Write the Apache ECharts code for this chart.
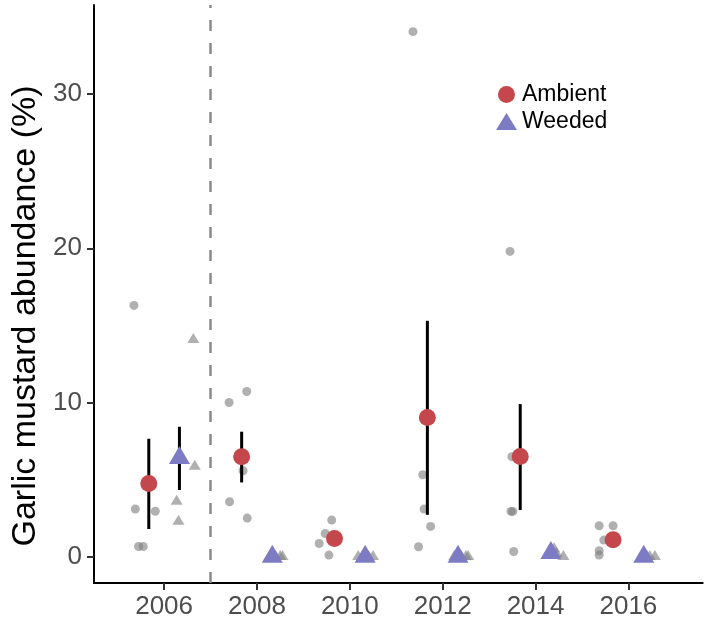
<!DOCTYPE html>
<html><head><meta charset="utf-8">
<script src="https://cdn.jsdelivr.net/npm/echarts@6/dist/echarts.min.js"></script>
<style>html,body{margin:0;padding:0;background:#fff}#c{width:709px;height:621px}</style>
</head><body><div id="c"></div>
<script>
// ---- data ----
const years = [2006, 2008, 2010, 2012, 2014, 2016];
const yTicks = [0, 10, 20, 30];
const treatmentStart = 2007;
const dodge = 0.33;
const yTitle = 'Garlic mustard abundance (%)';

const ambientMean = [4.75, 6.48, 1.19, 9.03, 6.50, 1.10];
const ambientLow  = [1.80, 4.82, 0.82, 2.72, 3.03, 0.80];
const ambientHigh = [7.65, 8.11, 1.56, 15.30, 9.90, 1.40];

const weededMean = [6.40, 0, 0, 0, 0.25, 0];
const weededLow  = [4.33, 0, 0, 0, 0.15, 0];
const weededHigh = [8.43, 0, 0, 0, 0.35, 0];

// raw plot values (jittered x in years, value)
const ambientRawX = [2005.35, 2005.45, 2005.55, 2005.38, 2005.81,
                     2007.78, 2007.40, 2007.70, 2007.41, 2007.79,
                     2009.61, 2009.47, 2009.34, 2009.55, 2009.72,
                     2011.36, 2011.57, 2011.60, 2011.74, 2011.48,
                     2013.45, 2013.49, 2013.47, 2013.51, 2013.53,
                     2015.37, 2015.67, 2015.47, 2015.37, 2015.37];
const ambientRawY = [16.3, 0.67, 0.67, 3.1, 2.95,
                     10.72, 10.0, 5.58, 3.57, 2.51,
                     2.38, 1.51, 0.86, 0.11, 1.10,
                     34.05, 5.32, 3.09, 1.97, 0.65,
                     19.8, 6.49, 2.94, 2.94, 0.34,
                     2.01, 2.01, 1.08, 0.39, 0.11];
const weededRawX = [2006.63, 2006.66, 2006.27, 2006.31,
                    2008.28, 2008.40, 2008.50, 2008.55,
                    2010.18, 2010.30, 2010.40, 2010.50,
                    2012.25, 2012.40, 2012.50, 2012.55,
                    2014.40, 2014.30, 2014.60, 2014.45,
                    2016.30, 2016.46, 2016.57, 2016.40];
const weededRawY = [14.07, 5.86, 3.59, 2.29,
                    0, 0, 0, 0,
                    0, 0, 0, 0,
                    0, 0, 0, 0,
                    0.5, 0.3, 0, 0.2,
                    0, 0, 0, 0];

// ---- build ----
const RED = '#C4474C', BLUE = '#7D7BC4', GREY = 'rgba(128,128,128,0.62)';
const zip = (a, b) => a.map((v, i) => [v, b[i]]);
const ambMeanData = years.map((y, i) => [y - dodge, ambientMean[i]]);
const weeMeanData = years.map((y, i) => [y + dodge, weededMean[i]]);
const errData = years.map((y, i) => [y - dodge, ambientLow[i], ambientHigh[i]])
  .concat(years.map((y, i) => [y + dodge, weededLow[i], weededHigh[i]]).filter(d => d[2] > d[1]));

const font = 'Liberation Sans, Arial, Helvetica, sans-serif';
const chart = echarts.init(document.getElementById('c'), null, {renderer: 'canvas'});
chart.setOption({
  animation: false,
  backgroundColor: '#fff',
  textStyle: {fontFamily: font},
  grid: {left: 94, right: 6.3, top: 5.1, bottom: 38, containLabel: false, outerBoundsMode: 'none'},
  legend: {
    orient: 'vertical', left: 491, top: 78, itemWidth: 21, itemHeight: 17, itemGap: 4,
    textStyle: {fontSize: 23, color: '#000', fontFamily: font, padding: [0, 0, 0, 0]},
    data: [{name: 'Ambient', icon: 'circle'}, {name: 'Weeded', icon: 'triangle'}]
  },
  graphic: [{
    type: 'text', x: 26, y: 316, rotation: Math.PI / 2, silent: true,
    style: {text: yTitle, fontSize: 34, fill: '#000', fontFamily: font,
      align: 'center', verticalAlign: 'middle'}
  }],
  xAxis: {
    type: 'value', min: 2004.49, max: 2017.6,
    axisLine: {onZero: false, lineStyle: {color: '#000', width: 2}},
    axisTick: {customValues: years, length: 7, lineStyle: {color: '#333', width: 2}},
    axisLabel: {customValues: years, fontSize: 26, color: '#4d4d4d', margin: 11, fontFamily: font,
      formatter: v => String(v)},
    splitLine: {show: false}
  },
  yAxis: {
    type: 'value', min: -1.70, max: 35.77,
    axisLine: {onZero: false, lineStyle: {color: '#000', width: 2}},
    axisTick: {customValues: yTicks, length: 7, lineStyle: {color: '#333', width: 2}},
    axisLabel: {customValues: yTicks, fontSize: 26, color: '#4d4d4d', margin: 12, fontFamily: font},
    splitLine: {show: false}
  },
  series: [
    {
      name: 'ambientRaw', type: 'scatter', data: zip(ambientRawX, ambientRawY),
      symbol: 'circle', symbolSize: 9, itemStyle: {color: GREY, opacity: 1}, z: 2,
      markLine: {silent: true, symbol: 'none', label: {show: false},
        lineStyle: {type: [11, 12], color: '#8a8a8a', width: 2.5},
        data: [{xAxis: treatmentStart}]}
    },
    {
      name: 'weededRaw', type: 'scatter', data: zip(weededRawX, weededRawY),
      symbol: 'triangle', symbolSize: [12, 10], symbolOffset: [0, -1.7],
      itemStyle: {color: GREY, opacity: 1}, z: 2
    },
    {
      name: 'se', type: 'custom', data: errData, z: 3,
      encode: {x: 0, y: [1, 2]},
      renderItem: (params, api) => {
        const x = api.value(0);
        const p1 = api.coord([x, api.value(1)]), p2 = api.coord([x, api.value(2)]);
        return {type: 'line', shape: {x1: p1[0], y1: p1[1], x2: p2[0], y2: p2[1]},
          style: {stroke: '#000', lineWidth: 3}};
      }
    },
    {
      name: 'Ambient', type: 'scatter', data: ambMeanData, symbol: 'circle', symbolSize: 17,
      itemStyle: {color: RED, opacity: 1}, z: 4
    },
    {
      name: 'Weeded', type: 'scatter', data: weeMeanData, symbol: 'triangle', symbolSize: [21, 18],
      symbolOffset: [0, -3], itemStyle: {color: BLUE, opacity: 1}, z: 4
    }
  ]
});
</script>
</body></html>
